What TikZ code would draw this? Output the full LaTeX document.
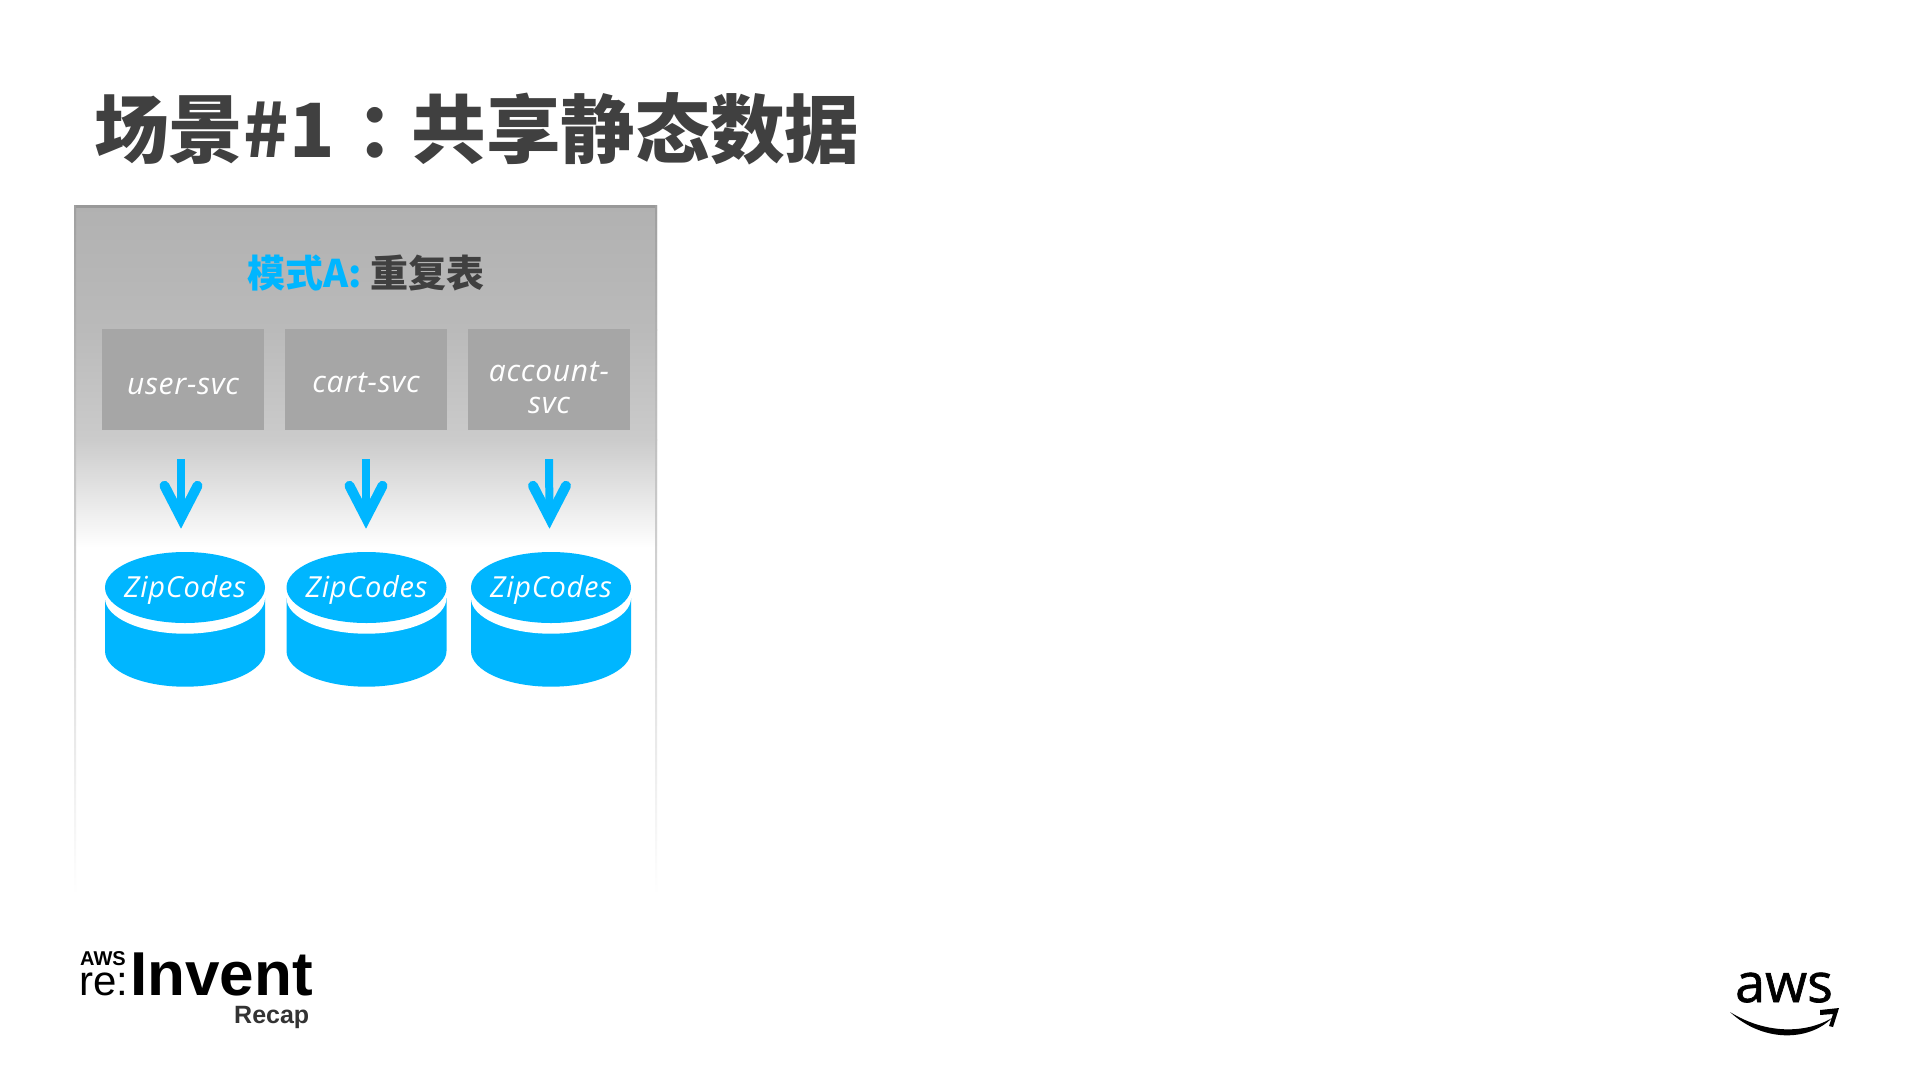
\documentclass[tikz,border=0pt]{standalone}
\usepackage{fontspec}
\setmainfont{Liberation Sans}
\newfontfamily\cjk{Noto Sans CJK SC}
\newfontfamily\hand[LetterSpace=2.5]{Open Sans}
\newfontfamily\lat{Liberation Sans}
\newfontfamily\awsfont[FakeBold=1.2]{Open Sans}
\usetikzlibrary{shapes.geometric}
\definecolor{awsblue}{HTML}{00B6FF}
\definecolor{ink}{HTML}{404040}
\definecolor{boxgray}{HTML}{A6A6A6}
\newcommand{\lowertext}[2]{\raisebox{-#1pt}[0pt][0pt]{#2}}
\tikzset{
  svcbox/.style={fill=boxgray,minimum width=162.5,minimum height=101,inner sep=0,text=white,align=center,font=\hand\itshape\fontsize{30}{32}\selectfont},
  disc/.style={ellipse,fill=awsblue,minimum width=160,minimum height=71,inner xsep=-20,inner ysep=-8,text=white,font=\hand\itshape\fontsize{29}{32}\selectfont},
  shaft/.style={draw=awsblue,line width=8,line cap=butt},
  barb/.style={draw=awsblue,line width=10,line cap=round,line join=miter,miter limit=10},
  pillar/.style={fill=awsblue},
}
\begin{document}
\begin{tikzpicture}[x=1pt,y=-1pt]
\useasboundingbox (0,0) rectangle (1919,1079);
\fill[white] (0,0) rectangle (1919,1079);
% panel
\shade[top color={rgb,255:red,177;green,177;blue,177},bottom color={rgb,255:red,186;green,186;blue,186}] (74,205) rectangle (657,330);
\shade[top color={rgb,255:red,186;green,186;blue,186},bottom color={rgb,255:red,203;green,203;blue,203}] (74,329.5) rectangle (657,440);
\shade[top color={rgb,255:red,203;green,203;blue,203},bottom color=white] (74,439.5) rectangle (657,548);
\fill[gray!80] (74,205) rectangle (657,207.5);
\shade[top color=gray!75,bottom color=white] (74,205) rectangle (76,895);
\shade[top color=gray!75,bottom color=white] (655,205) rectangle (657,895);
% title
\node[anchor=base west,inner sep=0,text=ink,font=\cjk\bfseries\fontsize{74.7}{80}\selectfont] (title) at (94,157) {场景\#1\kern22pt：\kern-20pt 共享静态数据};
\node[inner sep=0,font=\cjk\bfseries\fontsize{38}{44}\selectfont] (mode) at (366,273) {\textcolor{awsblue}{模式A:} \textcolor{ink}{重复表}};
% services
\node[svcbox] (u) at (183,379.5) {\lowertext{15}{user-svc}};
\node[svcbox] (c) at (366,379.5) {\lowertext{13}{cart-svc}};
\node[svcbox] (a) at (549,379.5) {\lowertext{34}{\parbox[b]{160pt}{\centering account-\\svc}}};
% cylinders
\foreach \cx in {185,366.5,551}{
  \fill[pillar] (\cx-80,598) -- (\cx-80,651) arc[start angle=180,end angle=0,x radius=80,y radius=35.7] -- (\cx+80,598) -- cycle;
  \fill[white] (\cx-81,598) -- (\cx-80,598) arc[start angle=180,end angle=0,x radius=80,y radius=35.7] -- (\cx+81,598) -- (\cx+81,560) -- (\cx-81,560) -- cycle;
}
\node[disc] (d1) at (185,587.5) {\lowertext{9.5}{ZipCodes}};
\node[disc] (d2) at (366.5,587.5) {\lowertext{9.5}{ZipCodes}};
\node[disc] (d3) at (551,587.5) {\lowertext{9.5}{ZipCodes}};
% arrows
\coordinate (t1) at ([xshift=-4,yshift=34]d1.north);
\coordinate (t2) at ([xshift=-0.5,yshift=34]d2.north);
\coordinate (t3) at ([xshift=-1.5,yshift=34]d3.north);
\draw[shaft] ([xshift=-2,yshift=-29]u.south) -- (t1);
\draw[shaft] ([yshift=-29]c.south) -- (t2);
\draw[shaft] ([yshift=-29]a.south) -- (t3);
\foreach \t in {t1,t2,t3}{
  \draw[barb] ([xshift=-16.5,yshift=32]\t) -- (\t) -- ([xshift=16.5,yshift=32]\t);
}
% re:Invent logo
\node[anchor=base west,inner sep=0,font=\lat\bfseries\fontsize{62}{66}\selectfont,text=black] (inv) at (130,995) {Invent};
\node[anchor=base west,inner sep=0,font=\lat\fontsize{42}{44}\selectfont,text=black] (re) at (79,995) {re:};
\node[anchor=base west,inner sep=0,font=\lat\bfseries\fontsize{20}{22}\selectfont,text=black] (awsm) at (80,965) {AWS};
\node[anchor=base west,inner sep=0,font=\lat\bfseries\fontsize{25}{26}\selectfont,text=black!80] (recap) at (234,1023) {Recap};
% aws logo
\node[anchor=base,inner sep=0,font=\awsfont\fontsize{54}{56}\selectfont,text=black] (awsl) at (1784,1002) {aws};
\fill[black] (1730,1012) .. controls (1765,1034) and (1805,1034) .. (1832,1018) .. controls (1808,1042) and (1762,1042) .. (1730,1012) -- cycle;
\fill[black] (1820,1010) -- (1839,1008) -- (1833,1027) -- (1829,1026) -- (1833,1014) -- (1820,1015) -- cycle;
\end{tikzpicture}
\end{document}
